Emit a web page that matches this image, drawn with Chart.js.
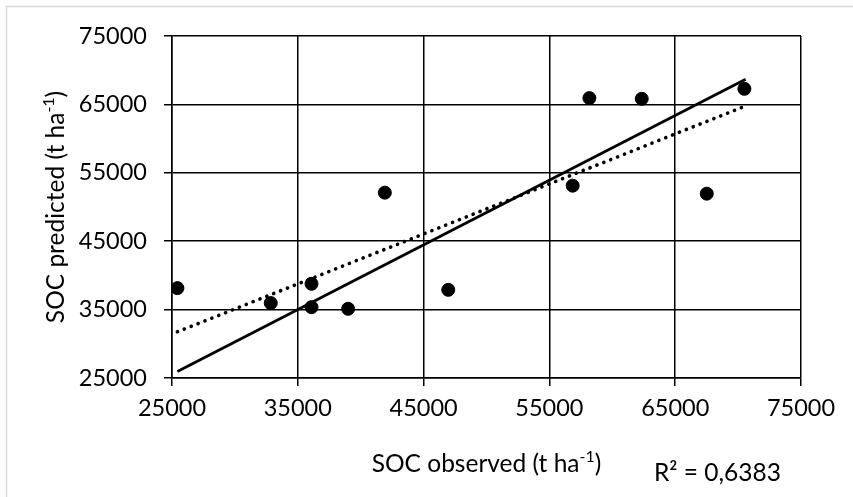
<!DOCTYPE html>
<html>
<head>
<meta charset="utf-8">
<script src="https://cdn.jsdelivr.net/npm/chart.js@4.4.1/dist/chart.umd.min.js"></script>
<style>
  html, body { margin: 0; padding: 0; background: #fff; }
  #wrap { position: relative; width: 853px; height: 497px; }
</style>
</head>
<body>
<div id="wrap"><canvas id="myChart" width="853" height="497"></canvas></div>
<script>
// observed vs predicted SOC (t ha-1)
const observed = [25430, 32850, 36090, 36090, 39000, 41920, 46960, 56850, 58180, 62340, 67510, 70500];
const predicted = [38140, 35950, 38770, 35360, 35120, 52100, 37890, 53120, 65920, 65820, 51950, 67280];

// line ends
const solidX = [25430, 70600];
const solidY = [25960, 68690];
const dottedX = [25430, 70300];
const dottedY = [31760, 64560];

const axisTicks = [25000, 35000, 45000, 55000, 65000, 75000];
const xTitle = "SOC observed (t ha";
const yTitle = "SOC predicted (t ha";
const titleSup = "-1";
const r2Label = "R² = 0,6383";

const FONT = "Lato, Calibri, sans-serif";

const toPoints = (xs, ys) => xs.map((x, i) => ({ x: x, y: ys[i] }));

// draws a title with a raised "-1"
function drawSupText(ctx, main, sup, cx, cy) {
  const big = "24.5px " + FONT;
  const small = "16px " + FONT;
  ctx.font = big;
  const w1 = ctx.measureText(main).width;
  const w3 = ctx.measureText(")").width;
  ctx.font = small;
  const w2 = ctx.measureText(sup).width;
  let x = cx - (w1 + w2 + w3) / 2;
  ctx.textAlign = "left";
  ctx.textBaseline = "middle";
  ctx.font = big;
  ctx.fillText(main, x, cy);
  x += w1;
  ctx.font = small;
  ctx.fillText(sup, x, cy - 7);
  x += w2;
  ctx.font = big;
  ctx.fillText(")", x, cy);
}

const extras = {
  id: "extras",
  beforeDraw(chart) {
    const ctx = chart.ctx;
    ctx.save();
    ctx.strokeStyle = "#d9d9d9";
    ctx.lineWidth = 1.5;
    ctx.strokeRect(6.5, 6.5, 900, 600);
    ctx.restore();
  },
  afterDraw(chart) {
    const ctx = chart.ctx;
    const a = chart.chartArea;
    ctx.save();
    ctx.fillStyle = "#000";
    drawSupText(ctx, xTitle, titleSup, (a.left + a.right) / 2, 464);
    ctx.translate(56, (a.top + a.bottom) / 2);
    ctx.rotate(-Math.PI / 2);
    drawSupText(ctx, yTitle, titleSup, 0, 0);
    ctx.restore();

    ctx.save();
    ctx.fillStyle = "#000";
    ctx.font = "24.5px " + FONT;
    ctx.textAlign = "left";
    ctx.textBaseline = "middle";
    ctx.fillText(r2Label, 654, 473);
    ctx.restore();
  },
};

const gridOpts = { color: "#000", lineWidth: 1.5, tickLength: 8, tickColor: "#000" };
const tickOpts = {
  color: "#000",
  font: { family: FONT, size: 23.5 },
  autoSkip: false,
  callback: (v) => String(v),
};

const ctx = document.getElementById("myChart").getContext("2d");
new Chart(ctx, {
  type: "scatter",
  data: {
    datasets: [
      {
        type: "line",
        data: toPoints(solidX, solidY),
        borderColor: "#000",
        borderWidth: 2.8,
        pointRadius: 0,
        fill: false,
      },
      {
        type: "line",
        data: toPoints(dottedX, dottedY),
        borderColor: "#000",
        borderWidth: 3.6,
        borderDash: [0.1, 7.3],
        borderCapStyle: "round",
        pointRadius: 0,
        fill: false,
      },
      {
        data: toPoints(observed, predicted),
        backgroundColor: "#000",
        borderColor: "#000",
        pointRadius: 6.5,
        pointHoverRadius: 6.5,
      },
    ],
  },
  options: {
    responsive: false,
    animation: false,
    events: [],
    layout: { padding: { left: 0, top: 36, right: 52, bottom: 0 } },
    plugins: { legend: { display: false }, tooltip: { enabled: false } },
    scales: {
      x: {
        type: "linear",
        min: 25000,
        max: 75000,
        afterBuildTicks: (s) => { s.ticks = axisTicks.map((v) => ({ value: v })); },
        afterFit: (s) => { s.height = 119; },
        grid: gridOpts,
        border: { color: "#000", width: 1.5 },
        ticks: Object.assign({ padding: 8, maxRotation: 0 }, tickOpts),
      },
      y: {
        type: "linear",
        min: 25000,
        max: 75000,
        afterBuildTicks: (s) => { s.ticks = axisTicks.map((v) => ({ value: v })); },
        afterFit: (s) => { s.width = 172; },
        grid: gridOpts,
        border: { color: "#000", width: 1.5 },
        ticks: Object.assign({ padding: 17 }, tickOpts),
      },
    },
  },
  plugins: [extras],
});
</script>
</body>
</html>
